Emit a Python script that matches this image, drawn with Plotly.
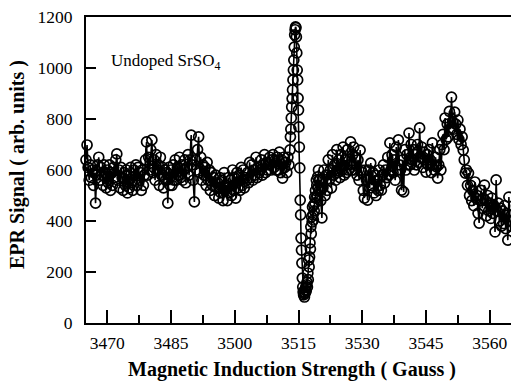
import numpy as np
import plotly.graph_objects as go

# Magnetic field grids (Gauss)
field_a = np.round(np.arange(3465.0, 3512.76, 0.25), 2)
field_p = np.round(np.arange(3513.0, 3519.95, 0.1), 2)
field_b = np.round(np.arange(3520.0, 3565.01, 0.25), 2)

# EPR signal (arb. units)
signal_a = [
    640, 698, 610, 560,  620, 570, 600, 540,  590, 470, 580, 620,  650, 560, 610, 580,
    540, 620, 590, 530,  600, 550, 620, 520,  590, 540, 610, 570,  640, 663, 560, 600,
    530, 610, 570, 520,  590, 540, 600, 510,  580, 530, 610, 550,  520, 600, 560, 620,
    540, 610, 560, 590,  520, 600, 540, 580,  640, 710, 580, 650,  600, 680, 718, 590,
    640, 560, 660, 600,  620, 540, 650, 580,  610, 530, 600, 560,  590, 470, 610, 540,
    600, 540, 620, 560,  640, 560, 610, 580,  650, 570, 620, 560,  600, 640, 550, 610,
    660, 580, 640, 737,  620, 560, 475, 640,  600, 680, 730, 590,  650, 560, 620, 580,
    610, 540, 630, 560,  600, 520, 590, 540,  570, 500, 580, 530,  550, 490, 570, 510,
    560, 480, 590, 520,  540, 480, 570, 510,  560, 500, 600, 520,  570, 490, 590, 530,
    580, 520, 610, 540,  600, 530, 570, 560,  590, 550, 630, 570,  620, 560, 600, 580,
    650, 570, 610, 590,  600, 640, 580, 620,  660, 590, 630, 600,  620, 650, 600, 640,
    660, 610, 640, 600,  650, 600, 670, 590,  640, 568, 650, 610,  630, 590, 650, 620,
]
signal_p = [
    679, 730, 760, 804, 847, 880, 914, 953, 992, 1031,
    1082, 1130, 1150, 1161, 1158, 1122, 1059, 992, 953, 882,
    835, 769, 690, 608, 482, 424, 333, 286, 235, 176,
    141, 122, 110, 115, 102, 130, 118, 141, 125, 150,
    160, 141, 196, 170, 247, 220, 259, 314, 290, 377,
    350, 416, 396, 455, 424, 404, 463, 440, 494, 470,
    520, 490, 560, 540, 500, 573, 530, 600, 560, 520,
]
signal_b = [
    560, 480, 412, 530,  600, 500, 580, 520,  640, 560, 600, 530,  660, 580, 620, 560,
    680, 590, 640, 570,  660, 600, 690, 580,  640, 590, 680, 600,  620, 710, 600, 660,
    690, 600, 650, 580,  640, 560, 678, 600,  590, 520, 490, 600,  560, 482, 600, 530,
    627, 540, 590, 510,  580, 500, 560, 520,  600, 540, 521, 580,  620, 550, 600, 570,
    650, 580, 706, 600,  660, 590, 640, 560,  690, 600, 718, 620,  600, 521, 640, 514,
    680, 600, 660, 620,  745, 620, 700, 640,  680, 600, 660, 620,  700, 630, 765, 650,
    690, 610, 670, 640,  592, 660, 620, 680,  640, 590, 706, 620,  600, 650, 612, 568,
    620, 680, 600, 700,  740, 680, 804, 720,  780, 730, 830, 760,  886, 790, 760, 827,
    780, 740, 796, 720,  760, 700, 730, 678,  640, 588, 600, 540,  588, 500, 540, 480,
    520, 460, 553, 490,  500, 430, 392, 480,  520, 450, 490, 541,  480, 420, 500, 440,
    470, 410, 490, 430,  460, 357, 561, 440,  470, 400, 450, 380,  440, 390, 460, 370,
    430, 325, 494, 400,  380,
]

field = np.concatenate([field_a, field_p, field_b])
signal = signal_a + signal_p + signal_b

x_ticks = [3470, 3485, 3500, 3515, 3530, 3545, 3560]
x_minor = [3477.5, 3492.5, 3507.5, 3522.5, 3537.5, 3552.5]
y_ticks = [0, 200, 400, 600, 800, 1000, 1200]

serif = "Liberation Serif"

fig = go.Figure()
fig.add_trace(go.Scatter(
    x=field, y=signal, mode="lines+markers",
    line=dict(color="black", width=1.6),
    marker=dict(symbol="circle-open", size=10, color="black", line=dict(width=1.7, color="black")),
    cliponaxis=False, showlegend=False,
))

fig.update_layout(
    width=511, height=385,
    margin=dict(l=86, r=0, t=17, b=62),
    paper_bgcolor="white", plot_bgcolor="white",
    font=dict(family=serif, size=17, color="black"),
    xaxis=dict(
        range=[3465, 3565], tickvals=x_ticks, ticks="inside", ticklen=13, tickwidth=2,
        tickcolor="black", showline=True, linecolor="black", linewidth=2, mirror=True,
        showgrid=False, zeroline=False, ticklabelstandoff=3,
        minor=dict(tickvals=x_minor, ticks="inside", ticklen=8, tickwidth=2,
                   tickcolor="black", showgrid=False),
        tickfont=dict(family=serif, size=17.5, color="black"),
    ),
    yaxis=dict(
        range=[0, 1200], tickvals=y_ticks, ticks="inside", ticklen=10, tickwidth=2,
        tickcolor="black", showline=True, linecolor="black", linewidth=2,
        showgrid=False, zeroline=False, ticklabelstandoff=8,
        tickfont=dict(family=serif, size=17.5, color="black"),
    ),
    annotations=[
        dict(text="Undoped SrSO<sub>4</sub>", xref="paper", yref="paper",
             x=(109 - 86) / 425, y=(323 - 62) / 306, xanchor="left", yanchor="middle",
             showarrow=False, font=dict(family=serif, size=17, color="black")),
        dict(text="<b>EPR Signal ( arb. units )</b>", xref="paper", yref="paper",
             x=(18 - 86) / 425, y=(323 - 165) / 306, textangle=-90,
             xanchor="center", yanchor="middle", showarrow=False,
             font=dict(family=serif, size=20, color="black")),
        dict(text="<b>Magnetic Induction Strength ( Gauss )</b>", xref="paper", yref="paper",
             x=(292 - 86) / 425, y=(323 - 370) / 306,
             xanchor="center", yanchor="middle", showarrow=False,
             font=dict(family=serif, size=20, color="black")),
    ],
)

fig.write_html("out.html")
